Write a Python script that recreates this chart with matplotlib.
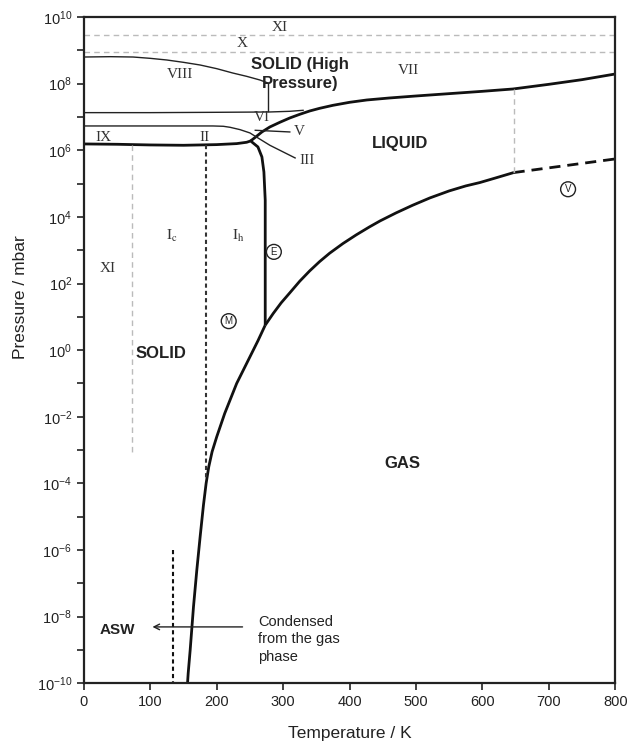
import numpy as np
import matplotlib
matplotlib.use("Agg")
import matplotlib.pyplot as plt
from matplotlib.ticker import FixedLocator, FuncFormatter, NullFormatter

plt.rcParams['font.family'] = ['Liberation Sans', 'DejaVu Sans']
plt.rcParams['mathtext.default'] = 'regular'

# sublimation curve (solid / gas), log10 pressure in mbar
sub_T = [156, 157, 160, 165, 170, 175, 180, 184, 188, 193, 200, 212, 230, 250, 262, 273]
sub_logp = [-10.0, -9.7, -9.0, -7.7, -6.6, -5.6, -4.65, -4.0, -3.5, -3.05, -2.6, -1.9, -1.0, -0.2, 0.28, 0.75]

# vaporisation curve (liquid / gas) up to the critical point
vap_T = [273, 285, 297, 310, 325, 340, 355, 370, 390, 410, 430, 446, 470, 495, 521, 550, 575, 596, 620, 647]
vap_logp = [0.75, 1.1, 1.42, 1.72, 2.07, 2.38, 2.66, 2.91, 3.2, 3.46, 3.7, 3.88, 4.12, 4.35, 4.57,
            4.78, 4.93, 5.03, 5.17, 5.33]

# supercritical continuation (dashed)
sc_T = [647, 800]
sc_logp = [5.33, 5.74]

# Ih upper boundary and Ih melting line
ih_T = [0, 50, 100, 150, 200, 230, 245, 251, 262, 268, 271, 273, 273]
ih_logp = [6.19, 6.18, 6.16, 6.15, 6.17, 6.2, 6.24, 6.28, 6.1, 5.8, 5.35, 4.5, 0.75]

# melting curve of the high pressure phases
melt_T = [251, 260, 268, 280, 295, 310, 325, 340, 355, 375, 400, 426, 460, 500, 550, 600, 646, 700, 750, 800]
melt_logp = [6.28, 6.42, 6.55, 6.7, 6.84, 6.97, 7.08, 7.18, 7.26, 7.35, 7.44, 7.51, 7.57, 7.63, 7.7,
             7.77, 7.84, 7.98, 8.12, 8.29]

# VIII upper boundary
viii_T = [0, 40, 74, 100, 125, 150, 175, 200, 224, 245, 265, 277]
viii_logp = [8.8, 8.81, 8.8, 8.76, 8.71, 8.64, 8.56, 8.45, 8.32, 8.22, 8.11, 8.02]

# VI / VIII boundary (thin, nearly flat)
vi_T = [0, 100, 200, 280, 310, 330]
vi_logp = [7.13, 7.13, 7.14, 7.15, 7.17, 7.2]

# II / IX upper boundary bending down towards III
ii_T = [0, 100, 194, 210, 220, 235, 250, 258, 280, 300, 318]
ii_logp = [6.73, 6.73, 6.73, 6.72, 6.69, 6.62, 6.52, 6.42, 6.15, 5.95, 5.77]

# pressures of the faint dashed lines at the top
top_logp = [9.46, 8.95]

xticks = [0, 100, 200, 300, 400, 500, 600, 700, 800]
ymajor = [-10, -8, -6, -4, -2, 0, 2, 4, 6, 8, 10]
yminor = [-9, -7, -5, -3, -1, 1, 3, 5, 7, 9]

def P(v):
    return 10.0 ** np.asarray(v, dtype=float)

fig = plt.figure(figsize=(6.31, 7.41), dpi=100)
ax = fig.add_axes([0.133, 0.078, 0.842, 0.899])
ax.set_yscale('log')
ax.set_xlim(0, 800)
ax.set_ylim(1e-10, 1e10)

bold = dict(color='#111111', lw=2.0, solid_capstyle='butt', solid_joinstyle='round')
thin = dict(color='#222222', lw=1.0)
grey = dict(color='#bbbbbb', lw=1.0, ls=(0, (4, 3)))

ax.plot(sub_T, P(sub_logp), **bold)
ax.plot(vap_T, P(vap_logp), **bold)
ax.plot(sc_T, P(sc_logp), color='#111111', lw=2.0, ls=(0, (4, 2.5)))
ax.plot(ih_T, P(ih_logp), **bold)
ax.plot(melt_T, P(melt_logp), **bold)
ax.plot(viii_T, P(viii_logp), **thin)
ax.plot(vi_T, P(vi_logp), **thin)
ax.plot(ii_T, P(ii_logp), **thin)
ax.plot([277, 277], P([8.02, 7.18]), **thin)
ax.plot([258, 310], P([6.6, 6.55]), **thin)

for lp in top_logp:
    ax.axhline(10 ** lp, **grey)
ax.plot([72, 72], P([6.17, -3.06]), **grey)
ax.plot([647, 647], P([7.84, 5.33]), **grey)
ax.plot([184, 184], P([6.17, -3.9]), color='#333333', lw=1.5, ls=(0, (2, 1.5)))
ax.plot([134, 134], P([-6, -10]), color='#111111', lw=1.5, ls=(0, (2, 1.5)))

ax.annotate('', xy=(99, 10 ** -8.31), xytext=(243, 10 ** -8.31),
            arrowprops=dict(arrowstyle='->', color='#222222', lw=1.0))

serif = dict(family='Liberation Serif', fontsize=11, color='#333333', ha='center', va='center')
for txt, t, lp in [('XI', 295, 9.7), ('X', 238, 9.22), ('VIII', 145, 8.26), ('VII', 488, 8.4),
                   ('VI', 268, 6.97), ('V', 325, 6.55), ('IX', 30, 6.37), ('II', 182, 6.37),
                   ('III', 336, 5.68), ('XI', 36, 2.46)]:
    ax.text(t, 10 ** lp, txt, **serif)
ax.text(133, 10 ** 3.42, r'$\mathrm{I}_{\mathrm{c}}$', math_fontfamily='stix', **serif)
ax.text(232, 10 ** 3.42, r'$\mathrm{I}_{\mathrm{h}}$', math_fontfamily='stix', **serif)

boldtxt = dict(fontsize=12, fontweight='bold', color='#222222', ha='center', va='center')
ax.text(325, 10 ** 8.3, 'SOLID (High\nPressure)', linespacing=1.35, **boldtxt)
ax.text(476, 10 ** 6.2, 'LIQUID', **boldtxt)
ax.text(116, 10 ** -0.1, 'SOLID', **boldtxt)
ax.text(480, 10 ** -3.4, 'GAS', **boldtxt)
ax.text(51, 10 ** -8.4, 'ASW', fontsize=11, fontweight='bold', color='#222222', ha='center', va='center')
ax.text(262, 10 ** -8.68, 'Condensed\nfrom the gas\nphase', fontsize=10.5, color='#222222',
        ha='left', va='center', linespacing=1.3)

circ = dict(fontsize=7, ha='center', va='center', color='#222222',
            bbox=dict(boxstyle='circle,pad=0.25', fc='white', ec='#222222', lw=1.0))
ax.text(218, 10 ** 0.87, 'M', **circ)
ax.text(286, 10 ** 2.95, 'E', **circ)
ax.text(729, 10 ** 4.83, 'V', **circ)

ax.xaxis.set_major_locator(FixedLocator(xticks))
ax.yaxis.set_major_locator(FixedLocator(P(ymajor)))
ax.yaxis.set_major_formatter(FuncFormatter(lambda v, p: r'$10^{%d}$' % round(np.log10(v))))
ax.yaxis.set_minor_locator(FixedLocator(P(yminor)))
ax.yaxis.set_minor_formatter(NullFormatter())
ax.tick_params(which='both', direction='out', length=5, width=1.2, labelsize=10.5, colors='#222222')
for s in ax.spines.values():
    s.set_linewidth(1.6)
    s.set_color('#222222')

ax.set_xlabel('Temperature / K', fontsize=12.5, color='#222222')
ax.set_ylabel('Pressure / mbar', fontsize=12.5, color='#222222')
ax.xaxis.set_label_coords(0.5, -0.064)
ax.yaxis.set_label_coords(-0.105, 0.58)

fig.savefig('out.png', dpi=100)
